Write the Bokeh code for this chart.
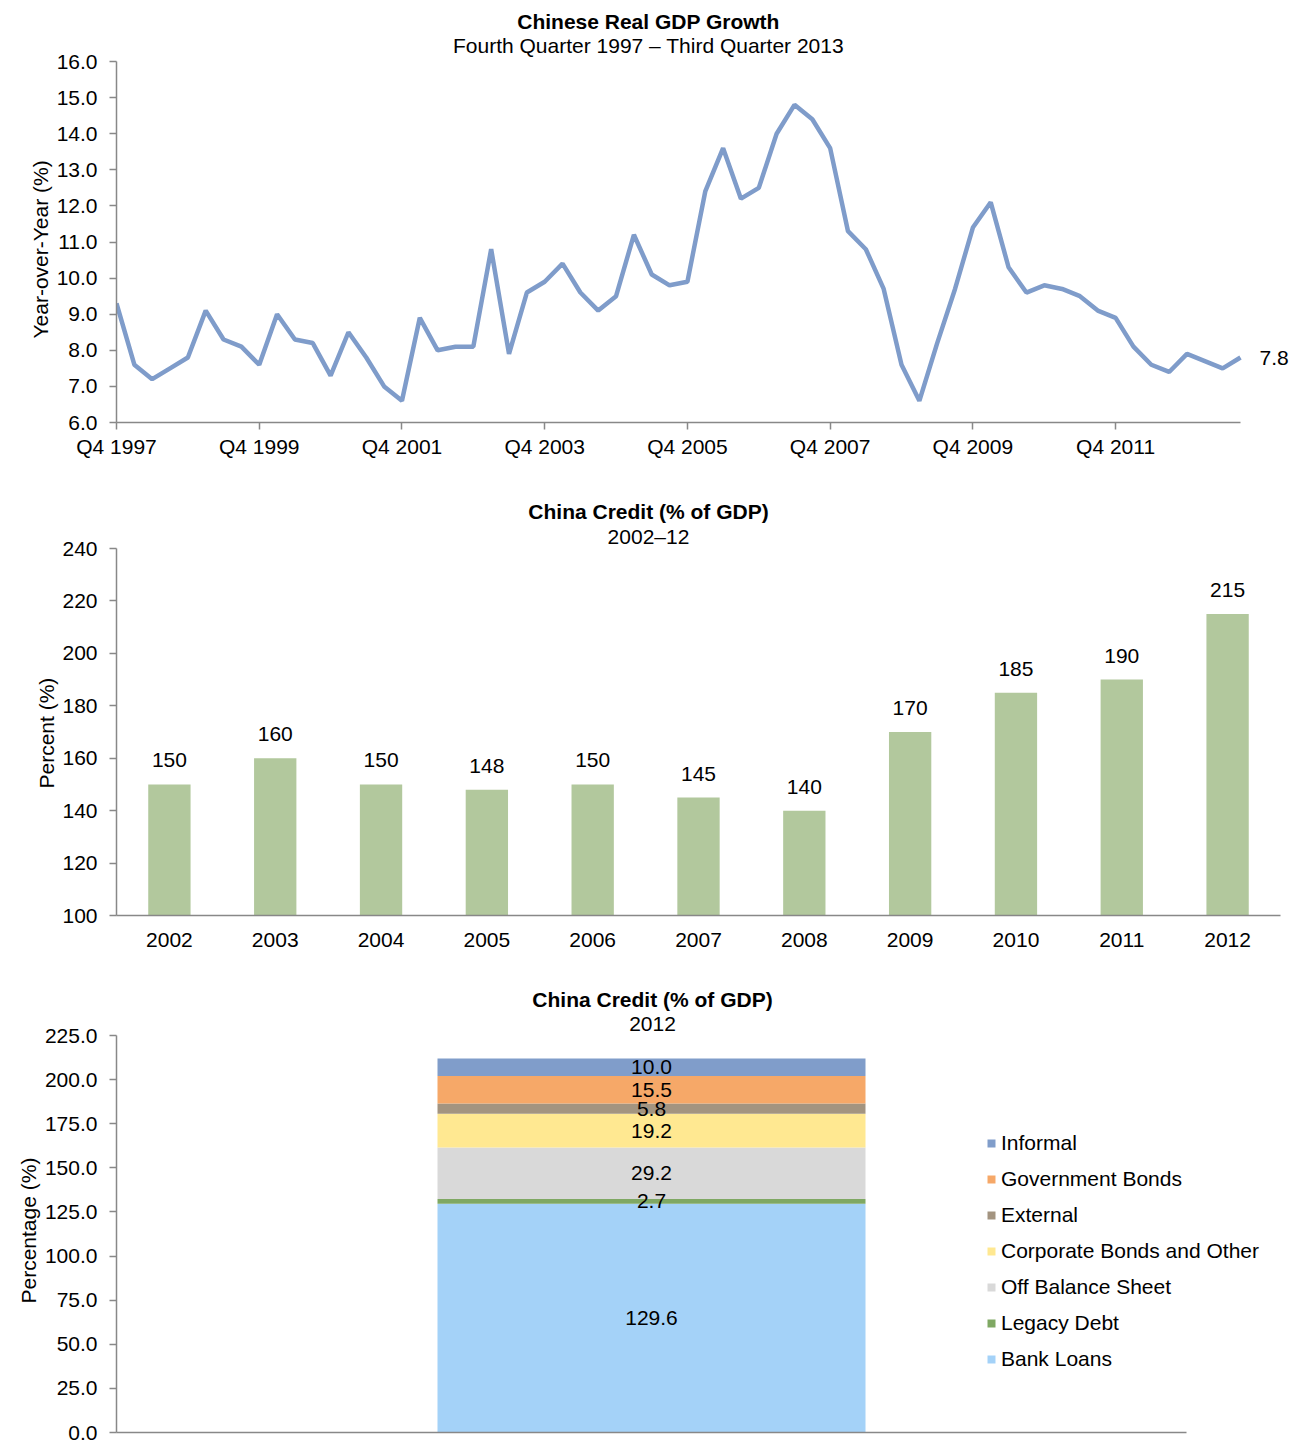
import numpy as np
from bokeh.plotting import figure
from bokeh.layouts import column
from bokeh.models import (Range1d, FixedTicker, NumeralTickFormatter, Label, Title, LinearAxis,
                          ColumnDataSource, Legend, LegendItem)
from bokeh.core.properties import value
from bokeh.embed import file_html
from bokeh.resources import INLINE

FONT = "Liberation Sans"
FS = "21px"
AX = "#888888"

# ---------------- data ----------------
gdp_growth = [9.3, 7.6, 7.2, 7.5, 7.8, 9.1, 8.3, 8.1, 7.6, 9.0, 8.3, 8.2, 7.3, 8.5, 7.8, 7.0,
              6.6, 8.9, 8.0, 8.1, 8.1, 10.8, 7.9, 9.6, 9.9, 10.4, 9.6, 9.1, 9.5, 11.2, 10.1, 9.8,
              9.9, 12.4, 13.6, 12.2, 12.5, 14.0, 14.8, 14.4, 13.6, 11.3, 10.8, 9.7, 7.6, 6.6, 8.2, 9.7,
              11.4, 12.1, 10.3, 9.6, 9.8, 9.7, 9.5, 9.1, 8.9, 8.1, 7.6, 7.4, 7.9, 7.7, 7.5, 7.8]
gdp_tick_labels = ["Q4 1997", "Q4 1999", "Q4 2001", "Q4 2003", "Q4 2005", "Q4 2007", "Q4 2009", "Q4 2011"]
gdp_tick_every = 8  # quarters between labelled ticks

credit_years = ["2002", "2003", "2004", "2005", "2006", "2007", "2008", "2009", "2010", "2011", "2012"]
credit_values = [150, 160, 150, 148, 150, 145, 140, 170, 185, 190, 215]

comp_names = ["Bank Loans", "Legacy Debt", "Off Balance Sheet", "Corporate Bonds and Other",
              "External", "Government Bonds", "Informal"]
comp_values = [129.6, 2.7, 29.2, 19.2, 5.8, 15.5, 10.0]
comp_colors = ["#A4D2F8", "#7FA863", "#D9D9D9", "#FFE891", "#A39480", "#F6A868", "#809DCA"]

W = 1295
LEFT = 116


def style(p):
    p.outline_line_color = None
    p.xgrid.visible = False
    p.ygrid.visible = False
    p.background_fill_color = "white"
    p.border_fill_color = "white"
    for ax in p.axis:
        ax.axis_line_color = AX
        ax.axis_line_width = 1.5
        ax.major_tick_line_color = AX
        ax.major_tick_line_width = 1.5
        ax.major_tick_in = 0
        ax.major_tick_out = 7
        ax.minor_tick_line_color = None
        ax.major_label_text_font = FONT
        ax.major_label_text_font_size = FS
        ax.major_label_text_color = "black"


def add_titles(p, title, subtitle, frame_bottom, cx, ty, sy):
    # positions in px relative to the frame's bottom-left corner
    p.add_layout(Label(x=cx - LEFT, y=frame_bottom - ty, x_units="screen", y_units="screen",
                       text=title, text_font=FONT, text_font_style="bold", text_font_size=FS,
                       text_align="center", text_baseline="middle", text_color="black"))
    p.add_layout(Label(x=cx - LEFT, y=frame_bottom - sy, x_units="screen", y_units="screen",
                       text=subtitle, text_font=FONT, text_font_size=FS,
                       text_align="center", text_baseline="middle", text_color="black"))


def add_ylabel(p, text, offset, gap):
    # an empty axis used as a spacer, then the vertical axis title in the left panel
    spacer = LinearAxis(ticker=FixedTicker(ticks=[]), axis_line_color=None,
                        major_tick_line_color=None, minor_tick_line_color=None,
                        major_tick_in=0, major_tick_out=gap, minor_tick_in=0, minor_tick_out=0,
                        major_label_standoff=0)
    p.add_layout(spacer, "left")
    p.add_layout(Title(text=text, align="left", offset=offset, vertical_align="middle",
                       standoff=2, text_font=FONT, text_font_size=FS,
                       text_font_style="normal", text_color="black"), "left")


# ---------------- chart 1: GDP growth line ----------------
n = len(gdp_growth)
xs = list(range(n))
H1, FB1 = 490, 422                       # canvas height, frame bottom
y0, y1 = 6, 16
ppu_y1 = (FB1 - 61) / (y1 - y0)
ppu_x1 = (1240 - LEFT) / (n - 1)
p1 = figure(width=W, height=H1, output_backend="svg", toolbar_location=None,
            x_range=Range1d(0, (W - LEFT) / ppu_x1), y_range=Range1d(y0, y0 + FB1 / ppu_y1),
            min_border_left=LEFT, min_border_right=0, min_border_top=0, min_border_bottom=H1 - FB1)
p1.line(xs, gdp_growth, line_color="#7F9CCA", line_width=4.5)
style(p1)
tick_pos = [i * gdp_tick_every for i in range(len(gdp_tick_labels))]
p1.xaxis.ticker = FixedTicker(ticks=tick_pos)
p1.xaxis.major_label_overrides = {t: lab for t, lab in zip(tick_pos, gdp_tick_labels)}
p1.xaxis.major_label_standoff = 5
p1.xaxis.bounds = (0, n - 1)
p1.yaxis.ticker = FixedTicker(ticks=list(range(y0, y1 + 1)))
p1.yaxis.bounds = (y0, y1)
p1.yaxis.formatter = NumeralTickFormatter(format="0.0")
p1.yaxis.major_label_standoff = 12
add_ylabel(p1, "Year-over-Year (%)", 84, 24)
p1.add_layout(Label(x=n - 1, y=gdp_growth[-1], x_offset=19, text=f"{gdp_growth[-1]:.1f}",
                    text_font=FONT, text_font_size=FS, text_baseline="middle", text_align="left",
                    text_color="black"))
add_titles(p1, "Chinese Real GDP Growth", "Fourth Quarter 1997 \u2013 Third Quarter 2013",
           FB1, 648, 21, 45)

# ---------------- chart 2: credit bars ----------------
H2, FB2 = 485, 425
b0, b1 = 100, 240
ppu_y2 = (FB2 - 58) / (b1 - b0)
nc = len(credit_years)
ppu_x2 = (1280 - LEFT) / nc
xc = list(range(nc))
p2 = figure(width=W, height=H2, output_backend="svg", toolbar_location=None,
            x_range=Range1d(-0.5, -0.5 + (W - LEFT) / ppu_x2), y_range=Range1d(b0, b0 + FB2 / ppu_y2),
            min_border_left=LEFT, min_border_right=0, min_border_top=0, min_border_bottom=H2 - FB2)
src2 = ColumnDataSource(dict(x=xc, top=credit_values, lab=[str(v) for v in credit_values]))
p2.vbar(x="x", top="top", bottom=b0, width=0.4, source=src2, fill_color="#B2C89D", line_color=None)
p2.text(x="x", y="top", text="lab", source=src2, y_offset=-24, text_align="center",
        text_baseline="middle", text_font=value(FONT), text_font_size=FS, text_color="black")
style(p2)
p2.xaxis.ticker = FixedTicker(ticks=xc)
p2.xaxis.major_label_overrides = {i: y for i, y in zip(xc, credit_years)}
p2.xaxis.major_tick_out = 0
p2.xaxis.major_label_standoff = 17
p2.xaxis.bounds = (-0.5, nc - 0.5)
p2.yaxis.ticker = FixedTicker(ticks=list(range(b0, b1 + 1, 20)))
p2.yaxis.bounds = (b0, b1)
p2.yaxis.major_label_standoff = 12
add_ylabel(p2, "Percent (%)", 127, 26)
add_titles(p2, "China Credit (% of GDP)", "2002\u201312", FB2, 648, 21, 46)

# ---------------- chart 3: stacked composition ----------------
H3, FB3 = 467, 457
c0, c1 = 0, 225
ppu_y3 = 397 / (c1 - c0)
ppu_x3 = (1186 - LEFT) / 1.0
tops = np.cumsum(comp_values)
bottoms = tops - np.array(comp_values)
src3 = ColumnDataSource(dict(x=[0] * len(comp_values), bottom=bottoms, top=tops,
                             mid=(bottoms + tops) / 2, color=comp_colors,
                             lab=[f"{v:.1f}" for v in comp_values]))
p3 = figure(width=W, height=H3, output_backend="svg", toolbar_location=None,
            x_range=Range1d(-0.5, -0.5 + (W - LEFT) / ppu_x3), y_range=Range1d(c0, c0 + FB3 / ppu_y3),
            min_border_left=LEFT, min_border_right=0, min_border_top=0, min_border_bottom=H3 - FB3)
r3 = p3.vbar(x="x", bottom="bottom", top="top", width=0.4, source=src3, fill_color="color",
             line_color=None)
p3.text(x="x", y="mid", text="lab", source=src3, text_align="center", text_baseline="middle",
        text_font=value(FONT), text_font_size=FS, text_color="black")
style(p3)
p3.xaxis.ticker = FixedTicker(ticks=[])
p3.xaxis.major_tick_out = 0
p3.xaxis.bounds = (-0.5, 0.5)
p3.yaxis.ticker = FixedTicker(ticks=list(range(c0, c1 + 1, 25)))
p3.yaxis.bounds = (c0, c1)
p3.yaxis.formatter = NumeralTickFormatter(format="0.0")
p3.yaxis.major_label_standoff = 12
add_ylabel(p3, "Percentage (%)", 129, 12)
items = [LegendItem(label=comp_names[i], renderers=[r3], index=i)
         for i in reversed(range(len(comp_names)))]
legend = Legend(items=items, location=(870, 61), padding=0, spacing=12, margin=0,
                glyph_width=10, glyph_height=10, label_height=24, label_standoff=5,
                label_text_font=FONT, label_text_font_size=FS, label_text_color="black",
                border_line_color=None, background_fill_alpha=0)
p3.add_layout(legend)
add_titles(p3, "China Credit (% of GDP)", "2012", FB3, 652, 24, 48)

layout = column(p1, p2, p3, spacing=0)
open("out.html", "w").write(file_html(layout, INLINE))
